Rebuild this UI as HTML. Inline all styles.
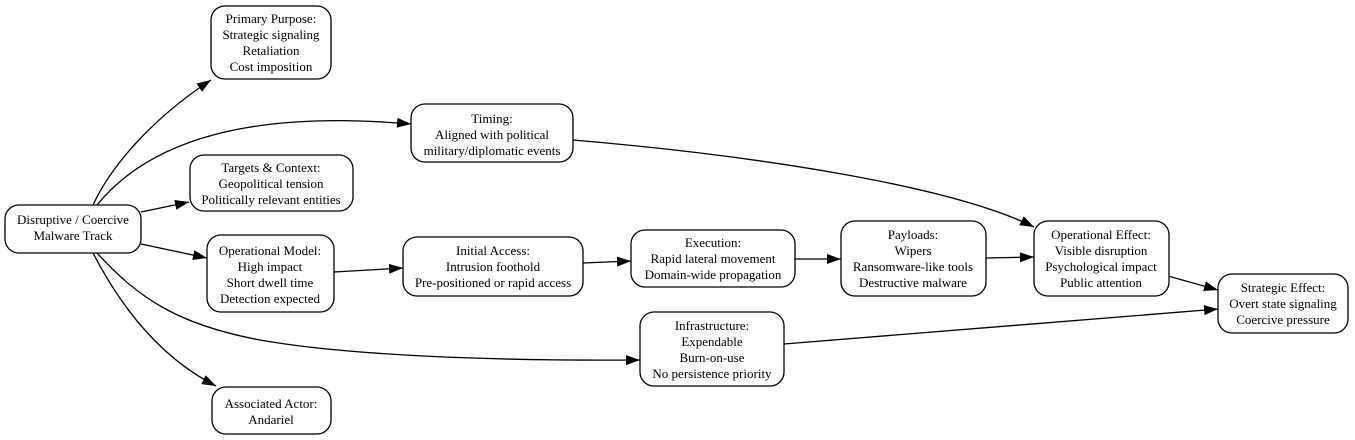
<!DOCTYPE html>
<html><head><meta charset="utf-8"><style>
html,body{margin:0;padding:0;background:#fff}
svg{display:block}
text{font-family:"Liberation Serif",serif;font-size:13px;fill:#000}
</style></head><body>
<svg width="1355" height="440" viewBox="0 0 1355 440" xmlns="http://www.w3.org/2000/svg">
<defs>
<marker id="a" markerUnits="userSpaceOnUse" markerWidth="16" markerHeight="12" refX="14" refY="5" orient="auto">
<path d="M0,0 L14,5 L0,10 Z" fill="#000"/>
</marker>
</defs>
<g fill="none" stroke="#000" stroke-width="1.3">
<path d="M93,205 C110,168 150,120 211,80" marker-end="url(#a)"/>
<path d="M97,205 C150,140 250,110 411,124" marker-end="url(#a)"/>
<path d="M141,212 L189,202" marker-end="url(#a)"/>
<path d="M141,244 L207,258" marker-end="url(#a)"/>
<path d="M97,253 C140,300 180,325 260,340 C350,356 500,361 640,360" marker-end="url(#a)"/>
<path d="M93,253 C125,315 165,360 216,386" marker-end="url(#a)"/>
<path d="M334,272 L403,268" marker-end="url(#a)"/>
<path d="M583,263 L631,261" marker-end="url(#a)"/>
<path d="M795,259 L841,259" marker-end="url(#a)"/>
<path d="M986,258 L1034,257" marker-end="url(#a)"/>
<path d="M573,140 C750,155 950,185 1034,227" marker-end="url(#a)"/>
<path d="M1168,276 L1218,290" marker-end="url(#a)"/>
<path d="M784,344 L1218,309" marker-end="url(#a)"/>
</g>
<g fill="#fff" stroke="#000" stroke-width="1.3">
<rect x="5" y="205" width="136" height="48" rx="14"/>
<rect x="211" y="6" width="120" height="73" rx="14"/>
<rect x="411" y="104" width="162" height="58" rx="14"/>
<rect x="190" y="155" width="163" height="56" rx="14"/>
<rect x="207" y="235" width="127" height="77" rx="14"/>
<rect x="403" y="237" width="180" height="59" rx="14"/>
<rect x="631" y="230" width="164" height="57" rx="14"/>
<rect x="841" y="221" width="145" height="75" rx="14"/>
<rect x="1034" y="221" width="135" height="75" rx="14"/>
<rect x="1218" y="274" width="130" height="59" rx="14"/>
<rect x="640" y="312" width="144" height="74" rx="14"/>
<rect x="212" y="387" width="119" height="47" rx="14"/>
</g>
<g text-anchor="middle">
<text x="73" y="224">Disruptive / Coercive</text><text x="73" y="240">Malware Track</text>
<text x="271" y="23">Primary Purpose:</text><text x="271" y="39">Strategic signaling</text><text x="271" y="55">Retaliation</text><text x="271" y="71">Cost imposition</text>
<text x="492" y="123">Timing:</text><text x="492" y="139">Aligned with political</text><text x="492" y="155">military/diplomatic events</text>
<text x="271" y="172">Targets &amp; Context:</text><text x="271" y="188">Geopolitical tension</text><text x="271" y="204">Politically relevant entities</text>
<text x="270" y="255">Operational Model:</text><text x="270" y="271">High impact</text><text x="270" y="287">Short dwell time</text><text x="270" y="303">Detection expected</text>
<text x="493" y="255">Initial Access:</text><text x="493" y="271">Intrusion foothold</text><text x="493" y="287">Pre-positioned or rapid access</text>
<text x="713" y="247">Execution:</text><text x="713" y="263">Rapid lateral movement</text><text x="713" y="279">Domain-wide propagation</text>
<text x="913" y="239">Payloads:</text><text x="913" y="255">Wipers</text><text x="913" y="271">Ransomware-like tools</text><text x="913" y="287">Destructive malware</text>
<text x="1101" y="239">Operational Effect:</text><text x="1101" y="255">Visible disruption</text><text x="1101" y="271">Psychological impact</text><text x="1101" y="287">Public attention</text>
<text x="1283" y="292">Strategic Effect:</text><text x="1283" y="308">Overt state signaling</text><text x="1283" y="324">Coercive pressure</text>
<text x="712" y="330">Infrastructure:</text><text x="712" y="346">Expendable</text><text x="712" y="362">Burn-on-use</text><text x="712" y="378">No persistence priority</text>
<text x="271" y="408">Associated Actor:</text><text x="271" y="424">Andariel</text>
</g>
</svg>
</body></html>
